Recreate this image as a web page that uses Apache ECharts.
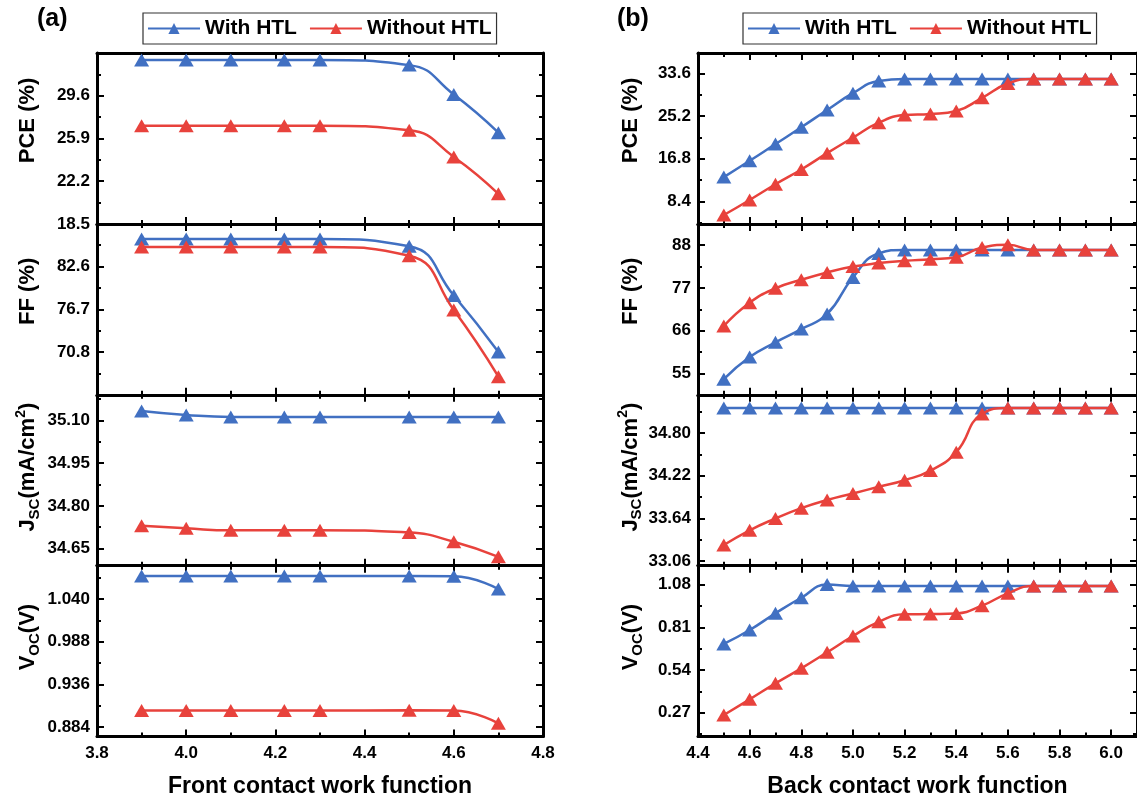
<!DOCTYPE html>
<html><head><meta charset="utf-8">
<script src="https://cdn.jsdelivr.net/npm/echarts@6/dist/echarts.min.js"></script>
<style>html,body{margin:0;padding:0;background:#fff}#c{width:1137px;height:802px}</style>
</head><body><div id="c"></div>
<script>
// ---------- DATA ----------
const seriesNames = ['With HTL', 'Without HTL'];
const xFront = [3.9, 4.0, 4.1, 4.22, 4.3, 4.5, 4.6, 4.7];
const xBack = [4.5, 4.6, 4.7, 4.8, 4.9, 5.0, 5.1, 5.2, 5.3, 5.4, 5.5, 5.6, 5.7, 5.8, 5.9, 6.0];

const pceFrontWith    = [32.7, 32.7, 32.7, 32.7, 32.7, 32.25, 29.7, 26.4];
const pceFrontWithout = [27.0, 27.0, 27.0, 27.0, 27.0, 26.6, 24.3, 21.1];
const ffFrontWith     = [86.4, 86.4, 86.4, 86.4, 86.4, 85.4, 78.6, 70.8];
const ffFrontWithout  = [85.3, 85.3, 85.3, 85.3, 85.3, 84.1, 76.6, 67.4];
const jscFrontWith    = [35.133, 35.119, 35.112, 35.112, 35.112, 35.112, 35.112, 35.112];
const jscFrontWithout = [34.730, 34.721, 34.714, 34.714, 34.714, 34.706, 34.674, 34.621];
const vocFrontWith    = [1.068, 1.068, 1.068, 1.068, 1.068, 1.068, 1.0675, 1.052];
const vocFrontWithout = [0.904, 0.904, 0.904, 0.904, 0.904, 0.9045, 0.904, 0.8885];

const pceBackWith    = [13.2, 16.4, 19.7, 23.0, 26.4, 29.7, 32.1, 32.5, 32.5, 32.5, 32.5, 32.5, 32.5, 32.5, 32.5, 32.5];
const pceBackWithout = [5.75, 8.7, 11.8, 14.7, 17.9, 20.95, 23.9, 25.4, 25.6, 26.2, 28.8, 31.6, 32.5, 32.5, 32.5, 32.5];
const ffBackWith     = [53.5, 59.2, 63.0, 66.4, 70.3, 79.7, 85.9, 86.8, 86.8, 86.8, 86.8, 86.8, 86.8, 86.8, 86.8, 86.8];
const ffBackWithout  = [67.2, 73.2, 76.9, 79.1, 81.0, 82.5, 83.4, 84.0, 84.4, 84.9, 87.4, 88.1, 86.8, 86.8, 86.8, 86.8];
const jscBackWith    = [35.14, 35.14, 35.14, 35.14, 35.14, 35.14, 35.14, 35.14, 35.14, 35.14, 35.14, 35.14, 35.14, 35.14, 35.14, 35.14];
const jscBackWithout = [33.28, 33.48, 33.64, 33.78, 33.89, 33.98, 34.07, 34.16, 34.29, 34.54, 35.06, 35.14, 35.14, 35.14, 35.14, 35.14];
const vocBackWith    = [0.705, 0.793, 0.899, 0.997, 1.08, 1.072, 1.072, 1.072, 1.072, 1.072, 1.072, 1.072, 1.072, 1.072, 1.072, 1.072];
const vocBackWithout = [0.256, 0.355, 0.456, 0.551, 0.652, 0.755, 0.845, 0.892, 0.894, 0.898, 0.947, 1.025, 1.072, 1.072, 1.072, 1.072];

// tick values
const xFrontMajor = [3.8, 4.0, 4.2, 4.4, 4.6, 4.8];
const xFrontMinor = [3.9, 4.1, 4.3, 4.5, 4.7];
const xBackMajor = [4.4, 4.6, 4.8, 5.0, 5.2, 5.4, 5.6, 5.8, 6.0];
const xBackMinor = [4.5, 4.7, 4.9, 5.1, 5.3, 5.5, 5.7, 5.9];

const pceFrontTicks = [18.5, 22.2, 25.9, 29.6, 33.3];
const pceFrontLabels = [18.5, 22.2, 25.9, 29.6];
const pceFrontMinor = [20.35, 24.05, 27.75, 31.45];
const ffFrontTicks = [64.9, 70.8, 76.7, 82.6, 88.5];
const ffFrontLabels = [70.8, 76.7, 82.6];
const ffFrontMinor = [67.85, 73.75, 79.65, 85.55];
const jscFrontTicks = [34.65, 34.80, 34.95, 35.10];
const jscFrontLabels = [34.65, 34.80, 34.95, 35.10];
const jscFrontMinor = [34.725, 34.875, 35.025, 35.175];
const vocFrontTicks = [0.884, 0.936, 0.988, 1.040];
const vocFrontLabels = [0.884, 0.936, 0.988, 1.040];
const vocFrontMinor = [0.910, 0.962, 1.014, 1.066];

const pceBackTicks = [8.4, 16.8, 25.2, 33.6];
const pceBackLabels = [8.4, 16.8, 25.2, 33.6];
const pceBackMinor = [4.2, 12.6, 21.0, 29.4];
const ffBackTicks = [55, 66, 77, 88];
const ffBackLabels = [55, 66, 77, 88];
const ffBackMinor = [60.5, 71.5, 82.5];
const jscBackTicks = [33.06, 33.64, 34.22, 34.80];
const jscBackLabels = [33.06, 33.64, 34.22, 34.80];
const jscBackMinor = [33.35, 33.93, 34.51, 35.09];
const vocBackTicks = [0.27, 0.54, 0.81, 1.08];
const vocBackLabels = [0.27, 0.54, 0.81, 1.08];
const vocBackMinor = [0.135, 0.405, 0.675, 0.945];

// ---------- STYLE / LAYOUT ----------
const FONT = '"Liberation Sans", Arial, Helvetica, sans-serif';
const BLUE = '#4170C2';
const RED = '#E8423C';
const PANEL_TOP = 53, PANEL_H = 170.875;
const cols = [
  {left: 97, width: 446, xmin: 3.8, xmax: 4.8, xMajor: xFrontMajor, xMinor: xFrontMinor, xName: 'Front contact work function', x: xFront, nameGap: 55},
  {left: 698, width: 442, xmin: 4.4, xmax: 6.1, xMajor: xBackMajor, xMinor: xBackMinor, xName: 'Back contact work function', x: xBack, nameGap: 53}
];
const rowShift = [36, 36, 26, 28];   // shifts the y titles up along the axis
const rows = [
  [ {w: pceFrontWith, wo: pceFrontWithout, min: 18.5, max: 33.3, ticks: pceFrontTicks, labels: pceFrontLabels, minor: pceFrontMinor, dec: 1, name: '{m|PCE (%)}'},
    {w: pceBackWith, wo: pceBackWithout, min: 4.0, max: 37.6, ticks: pceBackTicks, labels: pceBackLabels, minor: pceBackMinor, dec: 1, name: '{m|PCE (%)}'} ],
  [ {w: ffFrontWith, wo: ffFrontWithout, min: 64.9, max: 88.5, ticks: ffFrontTicks, labels: ffFrontLabels, minor: ffFrontMinor, dec: 1, name: '{m|FF (%)}'},
    {w: ffBackWith, wo: ffBackWithout, min: 49.5, max: 93.5, ticks: ffBackTicks, labels: ffBackLabels, minor: ffBackMinor, dec: 0, name: '{m|FF (%)}'} ],
  [ {w: jscFrontWith, wo: jscFrontWithout, min: 34.59, max: 35.19, ticks: jscFrontTicks, labels: jscFrontLabels, minor: jscFrontMinor, dec: 2, name: '{m|J}{s|SC}{m|(mA/cm}{p|2}{m|)}'},
    {w: jscBackWith, wo: jscBackWithout, min: 33.0, max: 35.32, ticks: jscBackTicks, labels: jscBackLabels, minor: jscBackMinor, dec: 2, name: '{m|J}{s|SC}{m|(mA/cm}{p|2}{m|)}'} ],
  [ {w: vocFrontWith, wo: vocFrontWithout, min: 0.8725, max: 1.0805, ticks: vocFrontTicks, labels: vocFrontLabels, minor: vocFrontMinor, dec: 3, name: '{m|V}{s|OC}{m|(V)}'},
    {w: vocBackWith, wo: vocBackWithout, min: 0.12, max: 1.2, ticks: vocBackTicks, labels: vocBackLabels, minor: vocBackMinor, dec: 2, name: '{m|V}{s|OC}{m|(V)}'} ]
];

const lineAxis = {show: true, onZero: false, lineStyle: {color: '#000', width: 3}};
const majTick = (vals) => ({show: true, inside: true, length: 7, customValues: vals, lineStyle: {color: '#000', width: 2}});
const minTick = (vals) => ({show: true, inside: true, length: 4, customValues: vals, lineStyle: {color: '#000', width: 2}});
const labelStyle = {fontSize: 17, fontWeight: 'bold', fontFamily: FONT, color: '#000'};
const nameRich = {
  m: {fontSize: 22, fontWeight: 'bold', fontFamily: FONT, color: '#000', lineHeight: 28},
  s: {fontSize: 15, fontWeight: 'bold', fontFamily: FONT, color: '#000', lineHeight: 15, verticalAlign: 'bottom'},
  p: {fontSize: 14, fontWeight: 'bold', fontFamily: FONT, color: '#000', lineHeight: 14, verticalAlign: 'top'}
};

const grid = [], xAxis = [], yAxis = [], series = [];
rows.forEach((row, r) => {
  row.forEach((p, c) => {
    const col = cols[c];
    const gi = grid.length;
    grid.push({left: col.left, width: col.width, top: PANEL_TOP + r * PANEL_H, height: PANEL_H, containLabel: false});
    const isBottom = r === rows.length - 1;
    const xb = {type: 'value', gridIndex: gi, min: col.xmin, max: col.xmax, splitLine: {show: false}};
    xAxis.push(Object.assign({}, xb, {
      position: 'bottom', axisLine: lineAxis, axisTick: majTick(col.xMajor),
      axisLabel: Object.assign({show: isBottom, customValues: col.xMajor, margin: 8, formatter: v => v.toFixed(1)}, labelStyle),
      name: isBottom ? col.xName : '', nameLocation: 'middle', nameGap: 39,
      nameTextStyle: {fontSize: 23, fontWeight: 'bold', fontFamily: FONT, color: '#000'}
    }));
    xAxis.push(Object.assign({}, xb, {position: 'bottom', axisLine: {show: false}, axisTick: minTick(col.xMinor), axisLabel: {show: false}}));
    xAxis.push(Object.assign({}, xb, {position: 'top', axisLine: lineAxis, axisTick: majTick(col.xMajor), axisLabel: {show: false}}));
    xAxis.push(Object.assign({}, xb, {position: 'top', axisLine: {show: false}, axisTick: minTick(col.xMinor), axisLabel: {show: false}}));

    const yb = {type: 'value', gridIndex: gi, min: p.min, max: p.max, splitLine: {show: false}};
    const d = p.dec;
    yAxis.push(Object.assign({}, yb, {
      position: 'left', axisLine: lineAxis, axisTick: majTick(p.ticks),
      axisLabel: Object.assign({show: true, customValues: p.labels, margin: 7, formatter: v => v.toFixed(d)}, labelStyle),
      name: p.name, nameLocation: 'middle', nameRotate: 90, nameGap: col.nameGap,
      nameTextStyle: {rich: nameRich, padding: [0, 0, 0, rowShift[r]]}
    }));
    yAxis.push(Object.assign({}, yb, {position: 'left', axisLine: {show: false}, axisTick: minTick(p.minor), axisLabel: {show: false}}));
    yAxis.push(Object.assign({}, yb, {position: 'right', axisLine: lineAxis, axisTick: majTick(p.ticks), axisLabel: {show: false}}));
    yAxis.push(Object.assign({}, yb, {position: 'right', axisLine: {show: false}, axisTick: minTick(p.minor), axisLabel: {show: false}}));

    const ai = gi * 4;
    [[p.w, BLUE, seriesNames[0]], [p.wo, RED, seriesNames[1]]].forEach(([vals, color, name], k) => {
      series.push({
        type: 'line', name: name, xAxisIndex: ai, yAxisIndex: ai,
        data: col.x.map((xv, i) => [xv, vals[i]]),
        smooth: 0.5, symbol: 'triangle', symbolSize: [15, 13],
        lineStyle: {color: color, width: 2.5}, itemStyle: {color: color},
        z: 3 + k, clip: false
      });
    });
  });
});

const legendBase = {
  top: 13, orient: 'horizontal', data: seriesNames,
  itemWidth: 52, itemHeight: 14, itemGap: 12,
  padding: [5, 5, 5, 4], borderColor: '#333', borderWidth: 1.2,
  textStyle: {fontSize: 21, fontWeight: 'bold', fontFamily: FONT, color: '#000'}
};

const option = {
  animation: false,
  backgroundColor: '#fff',
  title: [
    {text: '(a)', left: 37, top: 7, padding: 0, textStyle: {fontSize: 25, fontWeight: 'bold', fontFamily: FONT, color: '#000'}},
    {text: '(b)', left: 617, top: 7, padding: 0, textStyle: {fontSize: 25, fontWeight: 'bold', fontFamily: FONT, color: '#000'}}
  ],
  legend: [
    Object.assign({left: 143}, legendBase),
    Object.assign({left: 743}, legendBase)
  ],
  grid: grid, xAxis: xAxis, yAxis: yAxis, series: series
};

const chart = echarts.init(document.getElementById('c'), null, {renderer: 'canvas'});
chart.setOption(option);
</script>
</body></html>
